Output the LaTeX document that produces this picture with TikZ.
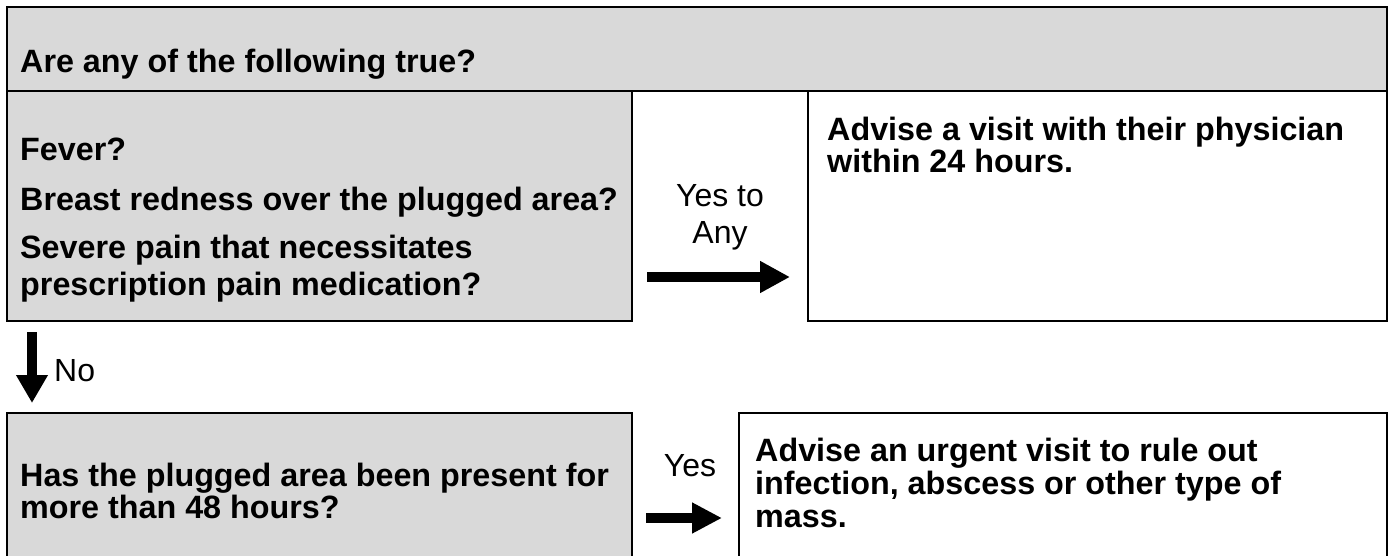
\documentclass[tikz,border=0pt]{standalone}
\usepackage{fontspec}
\setmainfont{Liberation Sans}
\usetikzlibrary{arrows.meta,calc}
\definecolor{boxgray}{HTML}{D9D9D9}
\begin{document}
\begin{tikzpicture}[x=1pt,y=-1pt,
  box/.style={draw, line width=2.6pt, anchor=north west, inner sep=0pt, outer sep=0pt},
  qbox/.style={box, fill=boxgray},
  abox/.style={box, fill=white},
  txt/.style={anchor=base west, inner sep=0pt, font=\fontsize{32.3}{36}\selectfont\bfseries},
  lbl/.style={anchor=base, inner sep=0pt, font=\fontsize{32}{36}\selectfont},
  blockarrow/.style={line width=10pt, -{Triangle[length=30pt,width=30pt]}}]
\useasboundingbox (0,0) rectangle (1393,556);
\clip (0,0) rectangle (1393,556);
\fill[white] (0,0) rectangle (1393,556);

% boxes
\node[qbox, minimum width=1380pt, minimum height=84pt]  (top)    at (7,7)     {};
\node[qbox, minimum width=625pt,  minimum height=230pt] (fever)  at (7,91)    {};
\node[abox, minimum width=579pt,  minimum height=230pt] (visit)  at (808,91)  {};
\node[qbox, minimum width=625pt,  minimum height=170pt] (hours)  at (7,413)   {};
\node[abox, minimum width=648pt,  minimum height=170pt] (urgent) at (739,413) {};

% box texts
\node[txt] (t0) at (20,73)  {Are any of the following true?};
\node[txt] (f1) at (20,161) {Fever?};
\node[txt] (f2) at (20,211) {Breast redness over the plugged area?};
\node[txt] (f3) at (20,259) {Severe pain that necessitates};
\node[txt] (f4) at (20,295) {prescription pain medication?};
\node[txt] (v1) at (827,141) {Advise a visit with their physician};
\node[txt] (v2) at (827,173) {within 24 hours.};
\node[txt] (h1) at (20,486) {Has the plugged area been present for};
\node[txt] (h2) at (20,518) {more than 48 hours?};
\node[txt] (u1) at (755,461) {Advise an urgent visit to rule out};
\node[txt] (u2) at (755,494) {infection, abscess or other type of};
\node[txt] (u3) at (755,527) {mass.};

% connector labels
\node[lbl] (yesany1) at (720,207) {Yes to};
\node[lbl] (yesany2) at (720,244) {Any};
\node[lbl, anchor=base west] (no) at (54,381) {No};
\node[lbl] (yes) at (690,476) {Yes};

% connectors
\coordinate (r1) at (0,277);
\coordinate (r2) at (0,518);
\coordinate (c1) at (32,0);
\draw[blockarrow, shorten <=15pt, shorten >=18pt] (fever.east |- r1) -- (visit.west |- r1);
\draw[line width=10pt, -{Triangle[length=28pt,width=30pt]}, shorten <=11pt, shorten >=10pt]
  (fever.south -| c1) -- (hours.north -| c1);
\draw[line width=10pt, -{Triangle[length=30pt,width=29pt]}, shorten <=14pt, shorten >=17pt]
  (hours.east |- r2) -- (urgent.west |- r2);
\end{tikzpicture}
\end{document}
